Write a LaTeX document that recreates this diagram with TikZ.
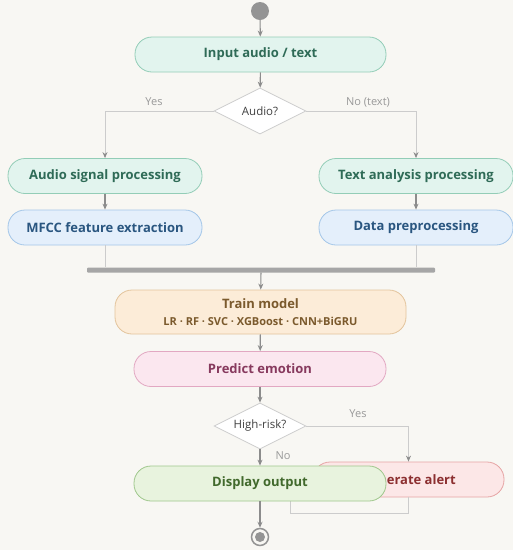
\documentclass[tikz,border=0pt]{standalone}
\usepackage{fontspec}
\setmainfont{Open Sans}
\usetikzlibrary{arrows.meta,shapes.geometric}
\definecolor{bgc}{HTML}{F8F7F3}
\definecolor{mintfill}{HTML}{E2F4EE}
\definecolor{mintdraw}{HTML}{93CDB7}
\definecolor{minttext}{HTML}{2F6B57}
\definecolor{bluefill}{HTML}{E4EFFB}
\definecolor{bluedraw}{HTML}{A3C6E8}
\definecolor{bluetext}{HTML}{2A5680}
\definecolor{peachfill}{HTML}{FCECD8}
\definecolor{peachdraw}{HTML}{E3C49C}
\definecolor{peachtext}{HTML}{7B5A2D}
\definecolor{pinkfill}{HTML}{FBE7EF}
\definecolor{pinkdraw}{HTML}{E2A8C2}
\definecolor{pinktext}{HTML}{873A5E}
\definecolor{redfill}{HTML}{FCE7E7}
\definecolor{reddraw}{HTML}{E6A4A4}
\definecolor{redtext}{HTML}{8C2F30}
\definecolor{leaffill}{HTML}{E8F3DE}
\definecolor{leafdraw}{HTML}{9FC78C}
\definecolor{leaftext}{HTML}{41692C}
\colorlet{cline}{black!45}
\colorlet{clight}{black!20}

\begin{document}
\begin{tikzpicture}[x=1pt, y=-1pt,
  act/.style={rectangle, rounded corners=17pt, line width=0.8pt, minimum height=35pt,
    font=\fontsize{13}{15}\selectfont\bfseries},
  mint/.style={act, fill=mintfill, draw=mintdraw, text=minttext},
  blue/.style={act, fill=bluefill, draw=bluedraw, text=bluetext},
  decide/.style={diamond, aspect=2, fill=white, draw=black!20, line width=0.8pt,
    minimum width=92pt, minimum height=46pt, inner sep=0pt,
    font=\fontsize{11.5}{13}\selectfont, text=black!75},
  lbl/.style={font=\fontsize{11}{13}\selectfont, text=black!40},
  flow/.style={draw=cline, line width=1.1pt, -{Stealth[length=6pt,width=5pt]}},
  branch/.style={draw=clight, line width=1pt, -{Stealth[length=6pt,width=5pt,color=cline]}},
  plain/.style={draw=clight, line width=1pt}]
\fill[bgc] (0,0) rectangle (513,550);
\useasboundingbox (0,0) rectangle (513,550);

% start and input
\node[circle, fill=black!42, minimum size=18pt, inner sep=0pt] (start) at (260,11) {};
\node[mint, minimum width=251pt] (input) at (260.5,54.5) {Input audio / text};
\node[decide] (audioq) at (260,111) {Audio?};

% two branches
\node[mint, minimum width=194pt] (audiosig) at (105,176) {Audio signal processing};
\node[mint, minimum width=194pt] (textana) at (416,176) {Text analysis processing};
\node[blue, minimum width=194pt] (mfcc) at (105,227.5) {MFCC feature extraction};
\node[blue, minimum width=194pt] (prep) at (416,227.5) {Data preprocessing};
\node[rectangle, fill=black!35, rounded corners=1pt, minimum width=348pt,
  minimum height=5pt, inner sep=0pt] (join) at (261,270) {};

% model
\node[act, fill=peachfill, draw=peachdraw, text=peachtext, minimum width=291pt,
  minimum height=44pt, align=center] (train) at (260.5,312)
  {Train model\\[2pt]{\fontsize{11}{12}\selectfont LR · RF · SVC · XGBoost · CNN+BiGRU}};
\node[act, fill=pinkfill, draw=pinkdraw, text=pinktext, minimum width=252pt] (predict)
  at (260,369) {Predict emotion};
\node[decide] (riskq) at (260,426) {High-risk?};

% connectors
\draw[flow] (start) -- (input);
\draw[flow] (input) -- (audioq);
\draw[branch] (audioq.west) -| (audiosig);
\draw[branch] (audioq.east) -| (textana);
\node[lbl] (yes1) at (154,102) {Yes};
\node[lbl] (no1) at (368,102) {No (text)};
\draw[flow] (audiosig) -- (mfcc);
\draw[flow] (textana) -- (prep);
\draw[plain] (mfcc) -- (mfcc |- join.north);
\draw[plain] (prep) -- (prep |- join.north);
\draw[flow] (join) -- (train);
\draw[flow] (train) -- (predict);
\draw[flow] (predict) -- (riskq);
\node[lbl] (yes2) at (358,414) {Yes};
\node[lbl] (no2) at (283,456) {No};

% alert and output
\node[act, fill=redfill, draw=reddraw, text=redtext, minimum width=191pt] (alert)
  at (408.5,479.5) {Generate alert};
\draw[branch] (riskq.east) -| (alert);
\coordinate (back) at (290,513);
\draw[plain] (alert.south) |- (back) -- (290,500);
\node[act, fill=leaffill, draw=leafdraw, text=leaftext, minimum width=252pt] (display)
  at (260,483.5) {Display output};
\draw[flow] (riskq) -- (display);

\node[circle, draw=black!42, line width=1.5pt, minimum size=17pt, inner sep=0pt] (stop)
  at (260,537) {};
\fill[black!42] (stop) circle (5pt);
\draw[flow] (display) -- (stop);
\end{tikzpicture}
\end{document}
